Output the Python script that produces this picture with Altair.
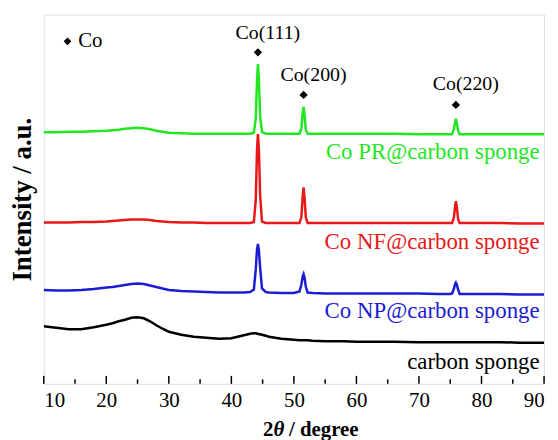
import altair as alt
import pandas as pd

# 2theta grid (degree)
two_theta = [10, 12, 14, 16, 18, 20, 21, 22, 23, 24, 25, 26, 27, 28, 29, 30, 32, 34, 36, 38,
             40, 41, 42, 43, 43.6, 43.9, 44.1, 44.25, 44.4, 44.6, 44.9, 45.5, 46, 48, 50,
             50.9, 51.2, 51.4, 51.55, 51.7, 51.9, 52.2, 53, 55, 58, 60, 63, 66, 70, 73,
             75, 75.3, 75.6, 75.8, 75.9, 76.05, 76.25, 76.5, 77, 80, 83, 86, 88, 90]

# stacked intensities (a.u., offset per sample)
co_pr = [253.5, 253.5, 254, 254, 254.5, 255, 255.5, 256, 257, 257.5,
         258, 257.5, 256.5, 255, 254, 253, 252.5, 252, 252, 252,
         252, 252, 252, 252, 253, 267, 305, 322, 307, 270,
         253.5, 252, 252, 252, 252, 252, 257, 273, 279, 271,
         256, 252, 252, 252, 252, 252, 252, 252, 251.5, 251.5,
         251.5, 251.5, 257, 264, 267, 263, 255, 251.5, 251.5, 251.5,
         251.5, 251.5, 251.5, 251.5]
co_nf = [162.5, 162.5, 162.5, 163, 163, 163.5, 164, 164.5, 165, 165.5,
         165.5, 165.5, 165, 164, 163.5, 163, 162.5, 162.5, 162, 162,
         162, 162, 162, 162, 163, 185, 235, 251.5, 237, 190,
         163.5, 162, 162, 162, 162, 162, 168, 188, 198, 188,
         168, 162, 162, 162, 162, 162, 162, 162, 162, 162,
         162, 162, 168, 180, 184, 179, 166, 162, 162, 162,
         162, 161.5, 161.5, 161.5]
co_np = [94.5, 94, 94, 94.5, 95.5, 97, 97.5, 98.5, 99.5, 100.5,
         101, 100.5, 99, 97.5, 96, 94.5, 93.5, 93, 92.5, 92,
         92, 92, 92, 92.5, 95, 115, 135, 141, 135, 117,
         96, 92.5, 92, 91.5, 91.5, 93, 100, 108, 110.5, 107,
         98, 92, 91.5, 91, 91, 91, 91, 91, 91, 90.5,
         90.5, 91, 96, 101, 102, 100, 95, 90.5, 90.5, 90.5,
         90.5, 90, 90, 90]
sponge = [58, 56.5, 55, 55, 57, 59.5, 61, 63, 64.5, 66.5,
          67, 66, 63, 59, 55.5, 52.5, 49.5, 47.5, 46.5, 45.5,
          46, 47.5, 49, 50.5, 51, 51, 50.5, 50.5, 50, 50,
          49.5, 48.5, 47.5, 45.5, 44.5, 44, 44, 44, 44, 44,
          44, 44, 43.5, 43, 43, 42.5, 42.5, 42.5, 42, 42,
          42, 42, 42, 42, 42, 42, 42, 42, 42, 42,
          42, 41.5, 41.5, 41.5]

series_names = ["Co PR@carbon sponge", "Co NF@carbon sponge", "Co NP@carbon sponge", "carbon sponge"]
series_colors = ["#22e622", "#e81818", "#1c1cd4", "#000000"]
series_widths = [2.5, 2.5, 2.5, 4.5]
series_label_y = [233, 143, 73, 22]

peak_pos = [44.25, 51.55, 75.9]
peak_names = ["Co(111)", "Co(200)", "Co(220)"]
peak_marker_y = [334, 291, 281]
peak_label_y = [353, 311, 302]

tick_x = list(range(10, 91, 5))

FONT = "Liberation Serif"

rows = []
for name, ys in zip(series_names, [co_pr, co_nf, co_np, sponge]):
    assert len(ys) == len(two_theta), name
    for x, y in zip(two_theta, ys):
        rows.append({"x": x, "y": y, "s": name})
df = pd.DataFrame(rows)

xscale = alt.Scale(domain=[10, 90], nice=False, zero=False)
yscale = alt.Scale(domain=[0, 372], nice=False, zero=False)

xenc = alt.X("x:Q", scale=xscale,
             axis=alt.Axis(values=list(range(10, 91, 10)), ticks=False, domain=False, grid=False,
                           labelFontSize=21, labelPadding=6, labelFont=FONT, labelColor="black",
                           title=None, format="d"))
yenc = alt.Y("y:Q", scale=yscale,
             axis=alt.Axis(labels=False, ticks=False, domain=False, grid=False,
                           title="Intensity / a.u.", titleFont=FONT, titleFontSize=27,
                           titleFontWeight="bold", titlePadding=7, titleColor="black"))

lines = alt.Chart(df).mark_line(clip=True).encode(
    x=xenc, y=yenc,
    color=alt.Color("s:N", scale=alt.Scale(domain=series_names, range=series_colors), legend=None),
    strokeWidth=alt.StrokeWidth("s:N", scale=alt.Scale(domain=series_names, range=series_widths), legend=None),
    detail="s:N",
)

lab_df = pd.DataFrame({"x": [89.3] * 4, "y": series_label_y, "t": series_names})
labels = alt.Chart(lab_df).mark_text(align="right", baseline="middle", fontSize=23, font=FONT).encode(
    x=alt.X("x:Q", scale=xscale), y=alt.Y("y:Q", scale=yscale), text="t:N",
    color=alt.Color("t:N", scale=alt.Scale(domain=series_names, range=series_colors), legend=None),
)

pk_df = pd.DataFrame({"x": peak_pos, "ym": peak_marker_y, "yl": peak_label_y, "t": peak_names})
markers = alt.Chart(pk_df).mark_point(shape="diamond", filled=True, size=70, color="black", opacity=1).encode(
    x=alt.X("x:Q", scale=xscale), y=alt.Y("ym:Q", scale=yscale))
pk_text = alt.Chart(pk_df).mark_text(align="center", baseline="middle", fontSize=20, font=FONT, dx=10, color="black").encode(
    x=alt.X("x:Q", scale=xscale), y=alt.Y("yl:Q", scale=yscale), text="t:N")

leg_df = pd.DataFrame({"x": [13.8], "y": [345], "tx": [15.5], "t": ["Co"]})
leg_mark = alt.Chart(leg_df).mark_point(shape="diamond", filled=True, size=60, color="black", opacity=1).encode(
    x=alt.X("x:Q", scale=xscale), y=alt.Y("y:Q", scale=yscale))
leg_text = alt.Chart(leg_df).mark_text(align="left", baseline="middle", fontSize=21, font=FONT, color="black").encode(
    x=alt.X("tx:Q", scale=xscale), y=alt.Y("y:Q", scale=yscale), text="t:N")

tk_df = pd.DataFrame({"x": tick_x, "y0": [0] * len(tick_x),
                      "y1": [8 if v % 10 == 0 else 4.5 for v in tick_x]})
ticks = alt.Chart(tk_df).mark_rule(color="black", strokeWidth=1.5).encode(
    x=alt.X("x:Q", scale=xscale), y=alt.Y("y0:Q", scale=yscale), y2="y1:Q")

# x-axis title with italic theta, placed below the tick labels
xt_df = pd.DataFrame({"t": ["2", "θ", "/ degree"], "px": [221, 231.5, 247], "st": ["normal", "italic", "normal"]})
xtitle_a = alt.Chart(xt_df[xt_df.st == "normal"]).mark_text(
    align="left", baseline="alphabetic", fontSize=21, font=FONT, fontWeight="bold", color="black"
).encode(x=alt.X("px:Q", scale=None), y=alt.value(425), text="t:N")
xtitle_b = alt.Chart(xt_df[xt_df.st == "italic"]).mark_text(
    align="left", baseline="alphabetic", fontSize=21, font=FONT, fontWeight="bold", fontStyle="italic", color="black"
).encode(x=alt.X("px:Q", scale=None), y=alt.value(425), text="t:N")

chart = alt.layer(lines, ticks, labels, markers, pk_text, leg_mark, leg_text, xtitle_a, xtitle_b).properties(
    width=504, height=372,
    autosize=alt.AutoSizeParams(type="none"),
    padding={"left": 36, "top": 5, "right": 6, "bottom": 58},
).configure_view(stroke="black", strokeWidth=1.5).configure(background="white", font=FONT)

chart.save("out.html", embed_options={"renderer": "svg", "actions": False})
